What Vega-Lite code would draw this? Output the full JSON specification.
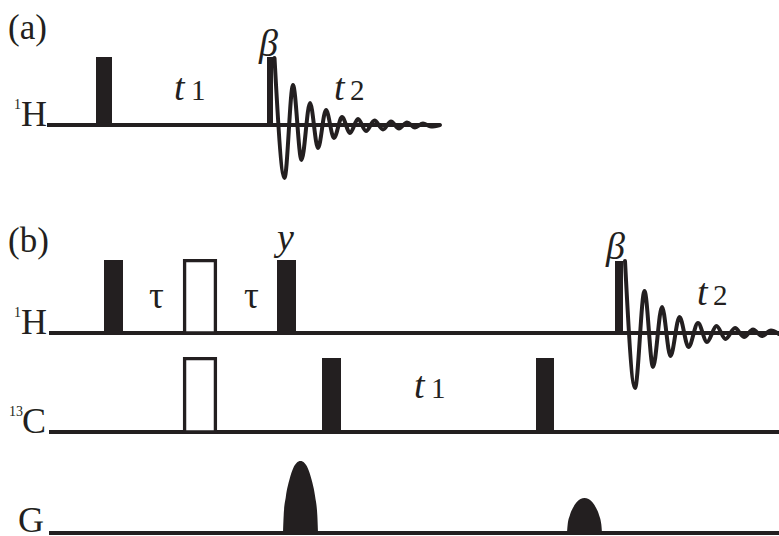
{
  "$schema": "https://vega.github.io/schema/vega-lite/v6.json",
  "width": 779,
  "height": 536,
  "autosize": "none",
  "padding": 0,
  "background": "white",
  "config": {"view": {"stroke": null}},
  "datasets": {
    "baselines": [
      {"x": 47, "x2": 440, "y": 125},
      {"x": 49, "x2": 779, "y": 333},
      {"x": 49, "x2": 779, "y": 432},
      {"x": 49, "x2": 779, "y": 533}
    ],
    "pulses": [
      {"x": 96, "x2": 112, "y": 57, "y2": 125},
      {"x": 267, "x2": 273, "y": 57, "y2": 125},
      {"x": 104, "x2": 123, "y": 260, "y2": 333},
      {"x": 277, "x2": 296, "y": 260, "y2": 333},
      {"x": 615, "x2": 623, "y": 261, "y2": 333},
      {"x": 322, "x2": 341, "y": 358, "y2": 432},
      {"x": 536, "x2": 554, "y": 358, "y2": 432}
    ],
    "openPulses": [
      {"x": 184.6, "x2": 215.4, "y": 260.6, "y2": 333},
      {"x": 184.6, "x2": 215.4, "y": 358.6, "y2": 432}
    ],
    "fid": [
      {"fid": "a", "x": 274.5, "y": 58},
      {"fid": "a", "x": 284.5, "y": 178},
      {"fid": "a", "x": 293, "y": 85},
      {"fid": "a", "x": 301.5, "y": 160},
      {"fid": "a", "x": 310, "y": 103},
      {"fid": "a", "x": 318, "y": 148},
      {"fid": "a", "x": 326, "y": 110},
      {"fid": "a", "x": 334, "y": 138},
      {"fid": "a", "x": 342, "y": 117},
      {"fid": "a", "x": 350, "y": 133},
      {"fid": "a", "x": 358, "y": 119},
      {"fid": "a", "x": 366, "y": 131},
      {"fid": "a", "x": 374.5, "y": 120.5},
      {"fid": "a", "x": 383, "y": 129.5},
      {"fid": "a", "x": 391, "y": 121.5},
      {"fid": "a", "x": 399, "y": 128.5},
      {"fid": "a", "x": 407, "y": 122.5},
      {"fid": "a", "x": 415, "y": 127.5},
      {"fid": "a", "x": 423, "y": 123.5},
      {"fid": "a", "x": 431, "y": 126.5},
      {"fid": "a", "x": 440, "y": 125},
      {"fid": "b", "x": 625, "y": 261},
      {"fid": "b", "x": 635, "y": 388},
      {"fid": "b", "x": 644.5, "y": 291},
      {"fid": "b", "x": 653, "y": 367},
      {"fid": "b", "x": 662, "y": 307},
      {"fid": "b", "x": 670.5, "y": 356},
      {"fid": "b", "x": 679.5, "y": 317},
      {"fid": "b", "x": 688.5, "y": 347},
      {"fid": "b", "x": 698, "y": 323},
      {"fid": "b", "x": 707, "y": 342},
      {"fid": "b", "x": 716.5, "y": 326},
      {"fid": "b", "x": 725.5, "y": 339},
      {"fid": "b", "x": 735, "y": 328},
      {"fid": "b", "x": 744, "y": 337},
      {"fid": "b", "x": 753, "y": 329.5},
      {"fid": "b", "x": 762, "y": 336},
      {"fid": "b", "x": 771, "y": 330.5},
      {"fid": "b", "x": 779, "y": 334}
    ],
    "gradients": [
      {"g": "1", "x": 283, "y": 533, "base": 533},
      {"g": "1", "x": 283.7, "y": 515, "base": 533},
      {"g": "1", "x": 285.8, "y": 497, "base": 533},
      {"g": "1", "x": 289.6, "y": 479, "base": 533},
      {"g": "1", "x": 293.3, "y": 468, "base": 533},
      {"g": "1", "x": 296.5, "y": 463, "base": 533},
      {"g": "1", "x": 300.5, "y": 461, "base": 533},
      {"g": "1", "x": 304.5, "y": 463, "base": 533},
      {"g": "1", "x": 307.7, "y": 468, "base": 533},
      {"g": "1", "x": 311.4, "y": 479, "base": 533},
      {"g": "1", "x": 315.2, "y": 497, "base": 533},
      {"g": "1", "x": 317.3, "y": 515, "base": 533},
      {"g": "1", "x": 318, "y": 533, "base": 533},
      {"g": "2", "x": 567, "y": 533, "base": 533},
      {"g": "2", "x": 567.7, "y": 524.2, "base": 533},
      {"g": "2", "x": 569.8, "y": 515.5, "base": 533},
      {"g": "2", "x": 573.6, "y": 506.7, "base": 533},
      {"g": "2", "x": 577.3, "y": 501.5, "base": 533},
      {"g": "2", "x": 580.5, "y": 499, "base": 533},
      {"g": "2", "x": 584.5, "y": 498, "base": 533},
      {"g": "2", "x": 588.5, "y": 499, "base": 533},
      {"g": "2", "x": 591.7, "y": 501.5, "base": 533},
      {"g": "2", "x": 595.4, "y": 506.7, "base": 533},
      {"g": "2", "x": 599.2, "y": 515.5, "base": 533},
      {"g": "2", "x": 601.3, "y": 524.2, "base": 533},
      {"g": "2", "x": 602, "y": 533, "base": 533}
    ],
    "panelLabels": [
      {"x": 8, "y": 39, "text": "(a)"},
      {"x": 8, "y": 252, "text": "(b)"}
    ],
    "nuclei": [
      {"x": 21, "y": 126, "text": "H"},
      {"x": 21, "y": 334, "text": "H"},
      {"x": 22, "y": 433, "text": "C"},
      {"x": 18, "y": 532, "text": "G"}
    ],
    "isotopes": [
      {"x": 14, "y": 109, "text": "1"},
      {"x": 14, "y": 317, "text": "1"},
      {"x": 9, "y": 416, "text": "13"}
    ],
    "mathItalic": [
      {"x": 174, "y": 100, "text": "t"},
      {"x": 334, "y": 100, "text": "t"},
      {"x": 259, "y": 56, "text": "β"},
      {"x": 606, "y": 259, "text": "β"},
      {"x": 697, "y": 305, "text": "t"},
      {"x": 414, "y": 398, "text": "t"},
      {"x": 277, "y": 250, "text": "y"}
    ],
    "subscripts": [
      {"x": 191, "y": 100, "text": "1"},
      {"x": 350, "y": 100, "text": "2"},
      {"x": 713, "y": 305, "text": "2"},
      {"x": 431, "y": 398, "text": "1"}
    ],
    "delays": [
      {"x": 149, "y": 308, "text": "τ"},
      {"x": 244, "y": 308, "text": "τ"}
    ]
  },
  "layer": [
    {
      "data": {"name": "baselines"},
      "mark": {"type": "rule", "color": "#231f20", "strokeWidth": 4.2},
      "encoding": {
        "x": {"field": "x", "type": "quantitative", "scale": {"domain": [0, 779], "nice": false, "zero": false}, "axis": null},
        "x2": {"field": "x2"},
        "y": {"field": "y", "type": "quantitative", "scale": {"domain": [0, 536], "nice": false, "zero": false, "reverse": true}, "axis": null}
      }
    },
    {
      "data": {"name": "openPulses"},
      "mark": {"type": "rect", "fill": "white", "stroke": "#231f20", "strokeWidth": 3.3},
      "encoding": {
        "x": {"field": "x", "type": "quantitative", "scale": {"domain": [0, 779], "nice": false, "zero": false}, "axis": null},
        "x2": {"field": "x2"},
        "y": {"field": "y", "type": "quantitative", "scale": {"domain": [0, 536], "nice": false, "zero": false, "reverse": true}, "axis": null},
        "y2": {"field": "y2"}
      }
    },
    {
      "data": {"name": "pulses"},
      "mark": {"type": "rect", "fill": "#231f20"},
      "encoding": {
        "x": {"field": "x", "type": "quantitative", "scale": {"domain": [0, 779], "nice": false, "zero": false}, "axis": null},
        "x2": {"field": "x2"},
        "y": {"field": "y", "type": "quantitative", "scale": {"domain": [0, 536], "nice": false, "zero": false, "reverse": true}, "axis": null},
        "y2": {"field": "y2"}
      }
    },
    {
      "data": {"name": "gradients"},
      "mark": {"type": "area", "color": "#231f20", "interpolate": "monotone"},
      "encoding": {
        "x": {"field": "x", "type": "quantitative", "scale": {"domain": [0, 779], "nice": false, "zero": false}, "axis": null},
        "y": {"field": "y", "type": "quantitative", "scale": {"domain": [0, 536], "nice": false, "zero": false, "reverse": true}, "axis": null},
        "y2": {"field": "base"},
        "detail": {"field": "g"}
      }
    },
    {
      "data": {"name": "fid"},
      "mark": {"type": "line", "color": "#231f20", "strokeWidth": 4, "interpolate": "monotone", "strokeCap": "round", "strokeJoin": "round"},
      "encoding": {
        "x": {"field": "x", "type": "quantitative", "scale": {"domain": [0, 779], "nice": false, "zero": false}, "axis": null},
        "y": {"field": "y", "type": "quantitative", "scale": {"domain": [0, 536], "nice": false, "zero": false, "reverse": true}, "axis": null},
        "detail": {"field": "fid"}
      }
    },
    {
      "data": {"name": "panelLabels"},
      "mark": {"type": "text", "font": "Liberation Serif", "fontSize": 35, "align": "left", "baseline": "alphabetic", "color": "#231f20"},
      "encoding": {
        "x": {"field": "x", "type": "quantitative", "scale": {"domain": [0, 779], "nice": false, "zero": false}, "axis": null},
        "y": {"field": "y", "type": "quantitative", "scale": {"domain": [0, 536], "nice": false, "zero": false, "reverse": true}, "axis": null},
        "text": {"field": "text"}
      }
    },
    {
      "data": {"name": "nuclei"},
      "mark": {"type": "text", "font": "Liberation Serif", "fontSize": 36, "align": "left", "baseline": "alphabetic", "color": "#231f20"},
      "encoding": {
        "x": {"field": "x", "type": "quantitative", "scale": {"domain": [0, 779], "nice": false, "zero": false}, "axis": null},
        "y": {"field": "y", "type": "quantitative", "scale": {"domain": [0, 536], "nice": false, "zero": false, "reverse": true}, "axis": null},
        "text": {"field": "text"}
      }
    },
    {
      "data": {"name": "isotopes"},
      "mark": {"type": "text", "font": "Liberation Serif", "fontSize": 14, "align": "left", "baseline": "alphabetic", "color": "#231f20"},
      "encoding": {
        "x": {"field": "x", "type": "quantitative", "scale": {"domain": [0, 779], "nice": false, "zero": false}, "axis": null},
        "y": {"field": "y", "type": "quantitative", "scale": {"domain": [0, 536], "nice": false, "zero": false, "reverse": true}, "axis": null},
        "text": {"field": "text"}
      }
    },
    {
      "data": {"name": "mathItalic"},
      "mark": {"type": "text", "font": "Liberation Serif", "fontStyle": "italic", "fontSize": 38, "align": "left", "baseline": "alphabetic", "color": "#231f20"},
      "encoding": {
        "x": {"field": "x", "type": "quantitative", "scale": {"domain": [0, 779], "nice": false, "zero": false}, "axis": null},
        "y": {"field": "y", "type": "quantitative", "scale": {"domain": [0, 536], "nice": false, "zero": false, "reverse": true}, "axis": null},
        "text": {"field": "text"}
      }
    },
    {
      "data": {"name": "subscripts"},
      "mark": {"type": "text", "font": "Liberation Serif", "fontSize": 29, "align": "left", "baseline": "alphabetic", "color": "#231f20"},
      "encoding": {
        "x": {"field": "x", "type": "quantitative", "scale": {"domain": [0, 779], "nice": false, "zero": false}, "axis": null},
        "y": {"field": "y", "type": "quantitative", "scale": {"domain": [0, 536], "nice": false, "zero": false, "reverse": true}, "axis": null},
        "text": {"field": "text"}
      }
    },
    {
      "data": {"name": "delays"},
      "mark": {"type": "text", "font": "Liberation Serif", "fontSize": 37, "align": "left", "baseline": "alphabetic", "color": "#231f20"},
      "encoding": {
        "x": {"field": "x", "type": "quantitative", "scale": {"domain": [0, 779], "nice": false, "zero": false}, "axis": null},
        "y": {"field": "y", "type": "quantitative", "scale": {"domain": [0, 536], "nice": false, "zero": false, "reverse": true}, "axis": null},
        "text": {"field": "text"}
      }
    }
  ]
}
